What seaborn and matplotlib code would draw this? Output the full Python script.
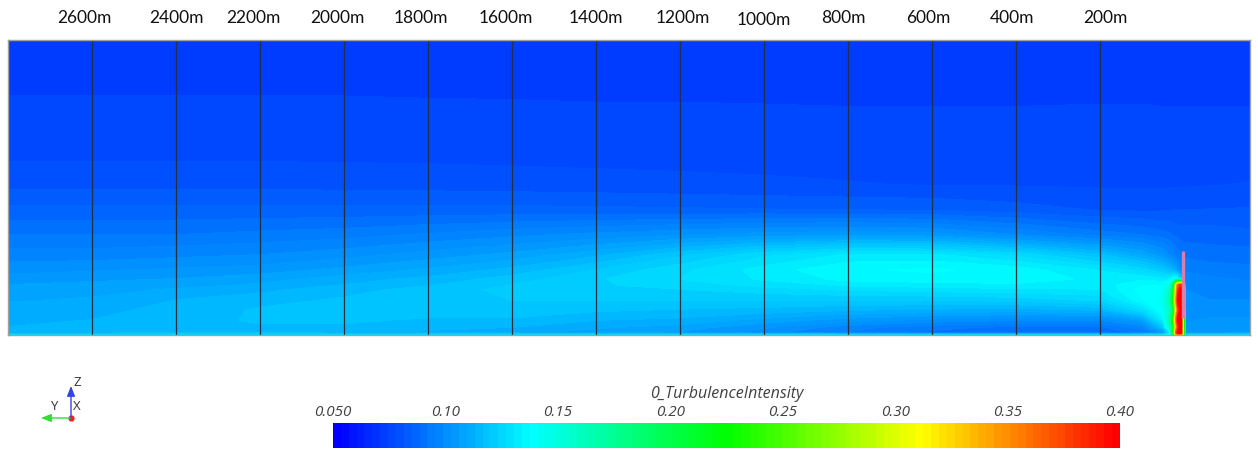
import numpy as np
import matplotlib
matplotlib.use("Agg")
import matplotlib.pyplot as plt
import seaborn as sns

# ---------------------------------------------------------------
# Turbulence intensity on the vertical centre plane of a single
# turbine wake (flow from right to left, turbine at 0 m).
# ---------------------------------------------------------------

# downstream distance of each profile station (m); negative = upstream
stations_m = [-157, -60, -2, 3, 8, 14, 19, 24, 32, 50, 100, 200, 400, 600,
              800, 1000, 1200, 1400, 1600, 1800, 2000, 2200, 2400, 2600, 2800]

# heights above ground for every profile (m)
heights_m = [0, 4, 16, 30, 50, 70, 90, 100, 112, 130, 160, 200,
             250, 300, 350, 400, 450, 500, 590]

# turbulence intensity profiles, one per station (bottom -> top)
ti_profiles = {
    -157: [.125, .106, .104, .103, .101, .099, .097, .096, .095, .093, .090, .086, .0818, .0782, .0767, .0758, .0746, .0738, .0725],
    -60:  [.125, .105, .104, .103, .101, .099, .098, .097, .096, .094, .090, .087, .0816, .0778, .0766, .0757, .0746, .0738, .0725],
    -2:   [.125, .104, .103, .102, .101, .100, .099, .098, .097, .095, .091, .087, .0815, .0776, .0765, .0757, .0746, .0738, .0725],
    3:    [.200, .300, .300, .300, .300, .300, .300, .260, .105, .096, .091, .087, .0815, .0776, .0765, .0757, .0746, .0738, .0725],
    8:    [.300, .399, .399, .399, .399, .399, .399, .380, .120, .099, .092, .087, .0815, .0776, .0765, .0757, .0746, .0738, .0725],
    14:   [.300, .399, .380, .399, .370, .399, .380, .360, .130, .103, .093, .087, .0815, .0776, .0765, .0757, .0746, .0738, .0725],
    19:   [.250, .360, .310, .350, .300, .340, .310, .300, .140, .107, .094, .088, .0815, .0776, .0765, .0757, .0746, .0738, .0725],
    24:   [.180, .240, .220, .250, .210, .240, .220, .200, .140, .111, .096, .088, .0814, .0776, .0765, .0757, .0746, .0738, .0725],
    32:   [.140, .130, .160, .170, .160, .170, .160, .150, .132, .114, .098, .089, .0813, .0775, .0765, .0757, .0746, .0738, .0725],
    50:   [.130, .102, .118, .132, .140, .142, .140, .137, .131, .119, .103, .090, .0810, .0774, .0765, .0757, .0746, .0738, .0725],
    100:  [.125, .093, .097, .106, .126, .137, .139, .137, .133, .125, .109, .092, .0808, .0774, .0765, .0758, .0747, .0738, .0725],
    200:  [.125, .089, .091, .099, .113, .124, .130, .132, .133, .130, .117, .094, .0812, .0775, .0766, .0758, .0747, .0738, .0725],
    400:  [.125, .089, .091, .099, .111, .121, .129, .133, .136, .136, .126, .099, .0830, .0777, .0767, .0759, .0746, .0738, .0725],
    600:  [.125, .091, .093, .101, .112, .120, .128, .132, .136, .138, .131, .104, .0845, .0778, .0768, .0760, .0746, .0738, .0725],
    800:  [.125, .095, .097, .104, .113, .120, .127, .131, .135, .137, .131, .105, .0848, .0782, .0769, .0760, .0746, .0738, .0725],
    1000: [.125, .100, .103, .108, .115, .120, .125, .128, .131, .132, .126, .104, .0852, .0786, .0770, .0761, .0747, .0738, .0725],
    1200: [.125, .105, .108, .112, .116, .120, .123, .125, .127, .126, .119, .102, .0855, .0790, .0771, .0762, .0748, .0738, .0725],
    1400: [.125, .108, .110, .113, .117, .120, .122, .123, .123, .120, .112, .100, .0858, .0794, .0772, .0762, .0748, .0738, .0725],
    1600: [.125, .110, .113, .116, .118, .120, .121, .120, .118, .114, .107, .098, .0860, .0797, .0774, .0763, .0749, .0739, .0725],
    1800: [.125, .112, .114, .116, .118, .119, .118, .116, .114, .110, .104, .096, .0860, .0800, .0776, .0764, .0750, .0739, .0725],
    2000: [.125, .114, .116, .117, .118, .117, .115, .113, .111, .107, .101, .094, .0860, .0802, .0777, .0765, .0751, .0740, .0725],
    2200: [.125, .115, .116, .117, .117, .115, .112, .110, .108, .104, .099, .093, .0860, .0804, .0778, .0765, .0752, .0740, .0725],
    2400: [.125, .115, .115, .115, .114, .113, .110, .108, .106, .103, .098, .092, .0860, .0805, .0778, .0765, .0752, .0740, .0725],
    2600: [.125, .114, .114, .113, .112, .110, .108, .107, .105, .102, .097, .092, .0860, .0805, .0778, .0765, .0752, .0740, .0725],
    2800: [.125, .114, .113, .112, .111, .109, .107, .106, .104, .101, .097, .092, .0860, .0805, .0778, .0765, .0752, .0740, .0725],
}

# sampling lines drawn across the plane and their labels
line_positions_m = [2600, 2400, 2200, 2000, 1800, 1600, 1400, 1200, 1000, 800, 600, 400, 200]
line_labels = ["2600m", "2400m", "2200m", "2000m", "1800m", "1600m", "1400m",
               "1200m", "1000m", "800m", "600m", "400m", "200m"]

# rotor line (pink marker) extent
rotor_line_z = [34, 168]

# colour scale
ti_min, ti_max = 0.05, 0.40
cbar_ticks = [0.05, 0.10, 0.15, 0.20, 0.25, 0.30, 0.35, 0.40]
cbar_ticklabels = ["0.050", "0.10", "0.15", "0.20", "0.25", "0.30", "0.35", "0.40"]
cbar_title = "0_TurbulenceIntensity"

# ---------------------------------------------------------------
sns.set_theme(style="white")
plt.rcParams["font.family"] = ["Open Sans", "DejaVu Sans"]

n_bands = 100
palette = sns.blend_palette(["#0000ff", "#00ffff", "#00ff00", "#ffff00", "#ff0000"],
                            n_colors=n_bands)
cmap = matplotlib.colors.ListedColormap(palette)
levels = np.linspace(ti_min, ti_max, n_bands + 1)

W, H = 1258, 450
fig = plt.figure(figsize=(W / 100, H / 100), dpi=100)

# main contour panel (pixel box 8..1250 x 40..335)
ax = fig.add_axes([8 / W, (H - 335) / H, 1242 / W, 295 / H])
x = np.array(stations_m, dtype=float)
z = np.array(heights_m, dtype=float)
ti = np.array([ti_profiles[s] for s in stations_m]).T
cs = ax.contourf(x, z, ti, levels=levels, cmap=cmap, extend="both", antialiased=False)
cs.set_edgecolor("face")
cs.set_linewidth(0.6)
ax.set_xlim(2800, -157)
ax.set_ylim(0, 590)
ax.vlines(line_positions_m, 0, 590, colors="#1d3246", linewidth=0.9)
ax.vlines(2, rotor_line_z[0], rotor_line_z[1], colors="#d77fae", linewidth=2.4)
ax.set_xticks([])
ax.set_yticks([])
for sp in ax.spines.values():
    sp.set_color("#a0a0a0")
    sp.set_linewidth(1.0)

# pixel-space overlay for annotations
ov = fig.add_axes([0, 0, 1, 1], facecolor="none")
ov.set_xlim(0, W)
ov.set_ylim(H, 0)
ov.axis("off")

# distance labels above the sampling lines
label_nudge_px = [-8, 0, -7, -7, -7, -6, 0, 3, 0, -5, -4, -4, 5]
label_dy_px = [0, 0, 0, 0, 0, 0, 0, 0, 2, 0, 0, 0, 0]
for pos, lab, dx, dy in zip(line_positions_m, line_labels, label_nudge_px, label_dy_px):
    px = 1184 - pos * 0.42 + dx
    ov.text(px, 18 + dy, lab, ha="center", va="center", fontsize=12.5,
            family=["Lato", "DejaVu Sans"], color="#111111")

# colour bar drawn as a one-row heatmap
cx0, cx1, cy0, cy1 = 333, 1120, 423, 448
cax = fig.add_axes([cx0 / W, (H - cy1) / H, (cx1 - cx0) / W, (cy1 - cy0) / H])
band_centres = (levels[:-1] + levels[1:]) / 2
sns.heatmap(band_centres[np.newaxis, :], ax=cax, cmap=cmap, vmin=ti_min, vmax=ti_max,
            cbar=False, xticklabels=False, yticklabels=False)
cax.set_axis_off()
for t, lab in zip(cbar_ticks, cbar_ticklabels):
    px = cx0 + (t - ti_min) / (ti_max - ti_min) * (cx1 - cx0)
    ov.text(px, 412, lab, ha="center", va="center", fontsize=11,
            style="italic", color="#404040")
ov.text((cx0 + cx1) / 2, 394, cbar_title, ha="center", va="center",
        fontsize=11.5, style="italic", color="#404040")

# coordinate triad
o = (71, 418)
ov.annotate("", xy=(41, 418), xytext=o,
            arrowprops=dict(arrowstyle="-|>,head_length=0.5,head_width=0.2",
                            color="#33dd33", lw=1.0, shrinkA=0, shrinkB=0))
ov.annotate("", xy=(71, 386), xytext=o,
            arrowprops=dict(arrowstyle="-|>,head_length=0.5,head_width=0.2",
                            color="#3344ee", lw=1.0, shrinkA=0, shrinkB=0))
ov.plot([o[0]], [o[1]], "o", color="#ee2222", markersize=3.5)
ov.text(73, 383, "Z", ha="left", va="center", fontsize=9.5, color="#333333")
ov.text(54, 407, "Y", ha="center", va="center", fontsize=9.5, color="#333333")
ov.text(73, 407, "X", ha="left", va="center", fontsize=9.5, color="#333333")

fig.savefig("out.png", dpi=100, facecolor="white")
